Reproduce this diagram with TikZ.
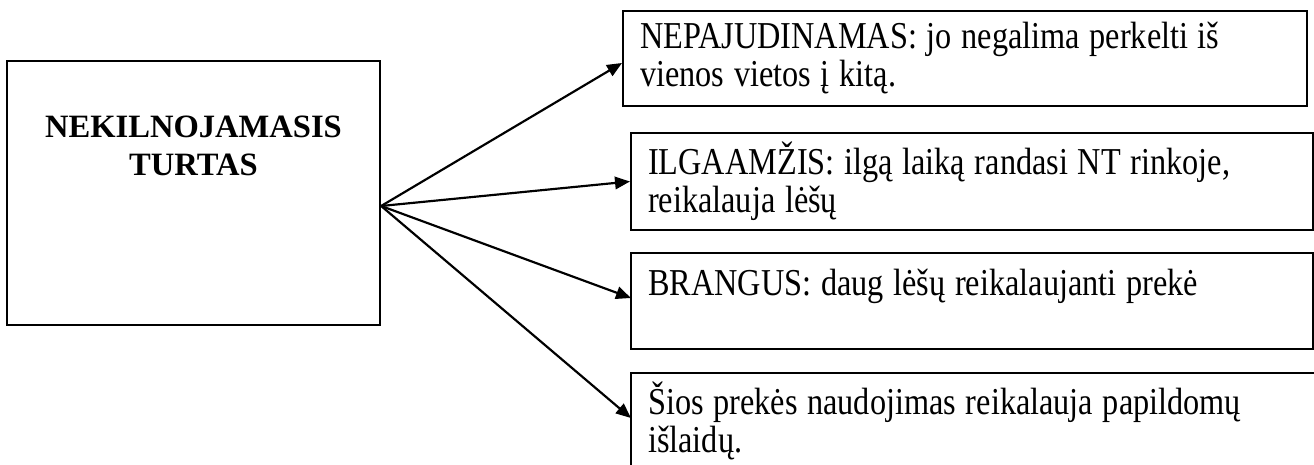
\documentclass[tikz,border=0pt]{standalone}
\usepackage{fontspec}
\setmainfont{Liberation Serif}
\newfontfamily\siaurasfont[FakeStretch=0.85, WordSpace=1.2]{Liberation Serif}
\usepackage{tikz}
\usetikzlibrary{
    arrows.meta,
    calc,
    positioning
}

\begin{document}
\begin{tikzpicture}[x=0.3685pt, y=-0.3685pt,
        mainbox/.style={draw, line width=0.8pt, minimum width=137.5pt, minimum height=97.3pt},
        infobox/.style={draw, line width=0.8pt, inner xsep=6.3pt, text justified, minimum height=35.2pt, font=\siaurasfont\fontsize{14}{14}\selectfont},
        arr/.style={line width=0.8pt, -{Triangle[length=5.5pt, width=4.6pt]}}]
    \useasboundingbox (0, 0) rectangle (1314, 465);
    % kairysis blokas
    \node[mainbox] (turtas) at (193.5, 193) {};
    \node[align=center, font=\fontsize{12}{14}\selectfont\bfseries] (turtasTxt) at ($(turtas.north)+(0, 85.5)$) {NEKILNOJAMASIS\\TURTAS};
    % savybes
    \node[infobox, minimum width=252pt, text width=239.4pt] (nepaj) at (965, 58.5)
        {NEPAJUDINAMAS: jo negalima perkelti iš\\vienos vietos į kitą.};
    \node[infobox, minimum width=251.3pt, text width=238.7pt] (ilgaam) at (972, 181.5)
        {ILGAAMŽIS: ilgą laiką randasi NT rinkoje,\\reikalauja lėšų};
    \node[infobox, minimum width=251.3pt, text width=238.7pt] (brangus) at (972, 301)
        {BRANGUS: daug lėšų reikalaujanti prekė\\\mbox{}};
    \node[infobox, minimum width=252.8pt, text width=240.2pt] (islaidos) at (974, 421)
        {Šios prekės naudojimas reikalauja papildomų\\išlaidų.};
    % rodykles
    \coordinate (pradzia) at ($(turtas.east)+(0, 13)$);
    \draw[arr] (pradzia) -- ($(nepaj.west)+(0, 4.5)$);
    \draw[arr] (pradzia) -- (ilgaam.west);
    \draw[arr] (pradzia) -- ($(brangus.west)+(1, -3)$);
    \draw[arr] (pradzia) -- ($(islaidos.west)+(1, -3)$);
\end{tikzpicture}
\end{document}
